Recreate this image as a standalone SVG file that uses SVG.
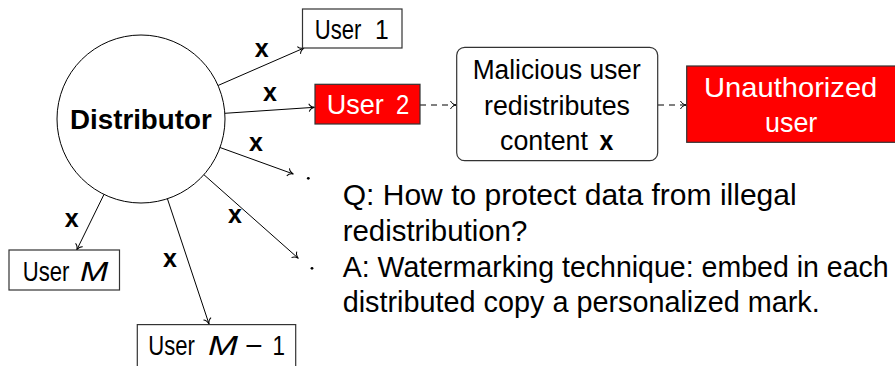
<svg xmlns="http://www.w3.org/2000/svg" width="895" height="366" viewBox="0 0 895 366">
  <style>
    text { font-family: "Liberation Sans", Arial, sans-serif; fill: #000; }
    .box { fill: #fff; stroke: #333; stroke-width: 1.2; }
    .red { fill: #ff0000; stroke: #333; stroke-width: 1.2; }
    .edge { fill: none; stroke: #000; stroke-width: 1; }
    .dash { fill: none; stroke: #000; stroke-width: 1; stroke-dasharray: 6 5; }
    .lbl { font-size: 25px; font-weight: bold; text-anchor: middle; }
    .nt { font-size: 28px; }
    .body { font-size: 29px; }
    .w { fill: #fff; }
  </style>
  <defs>
    <marker id="to" markerUnits="userSpaceOnUse" markerWidth="12" markerHeight="12" viewBox="-7 -6 8 12" refX="0" refY="0" orient="auto" overflow="visible">
      <path d="M-5.5,-4 C-4.5,-1.5 -1.5,-0.3 0,0 C-1.5,0.3 -4.5,1.5 -5.5,4" fill="none" stroke="#000" stroke-width="1"/>
    </marker>
  </defs>

  <!-- distribution and redistribution edges -->
  <g id="connectors">
    <line class="edge" x1="218" y1="85.5" x2="304" y2="48" marker-end="url(#to)"/>
    <line class="edge" x1="224.8" y1="113.3" x2="314.5" y2="107.3" marker-end="url(#to)"/>
    <line class="edge" x1="220" y1="147.5" x2="293.3" y2="174" marker-end="url(#to)"/>
    <line class="edge" x1="203.9" y1="174.7" x2="298.3" y2="258.3" marker-end="url(#to)"/>
    <line class="edge" x1="104" y1="194.4" x2="76.7" y2="250" marker-end="url(#to)"/>
    <line class="edge" x1="167.4" y1="198.7" x2="209" y2="324" marker-end="url(#to)"/>
    <line class="dash" x1="420" y1="105" x2="456" y2="105" marker-end="url(#to)"/>
    <line class="dash" x1="658" y1="105" x2="686" y2="105" marker-end="url(#to)"/>
    <text class="lbl" x="261.7" y="56.7">x</text>
    <text class="lbl" x="270" y="100.7">x</text>
    <text class="lbl" x="256" y="150.7">x</text>
    <text class="lbl" x="235" y="222.7">x</text>
    <text class="lbl" x="71.7" y="226.7">x</text>
    <text class="lbl" x="170" y="266.7">x</text>
    <circle cx="308.3" cy="178.3" r="1.4" fill="#000"/>
    <circle cx="312" cy="268.3" r="1.4" fill="#000"/>
  </g>

  <g id="distributor">
    <circle cx="141" cy="119" r="84" fill="#fff" stroke="#000" stroke-width="1"/>
    <text x="70" y="129.3" font-size="28" font-weight="bold" textLength="141.7" lengthAdjust="spacingAndGlyphs">Distributor</text>
  </g>

  <g id="user1">
    <rect class="box" x="302.5" y="9" width="99.5" height="39"/>
    <text class="nt" y="39.3"><tspan x="314.7" textLength="46.6" lengthAdjust="spacingAndGlyphs">User</tspan><tspan x="375" textLength="13.7" lengthAdjust="spacingAndGlyphs">1</tspan></text>
  </g>

  <g id="user2">
    <rect class="red" x="315" y="84.3" width="105" height="39.7"/>
    <text class="w" font-size="28.5" y="114.3"><tspan class="w" x="326.7" textLength="57" lengthAdjust="spacingAndGlyphs">User</tspan><tspan class="w" x="396" textLength="13.3" lengthAdjust="spacingAndGlyphs">2</tspan></text>
  </g>

  <g id="userM">
    <rect class="box" x="9" y="250" width="110.5" height="40"/>
    <text class="nt" y="281"><tspan x="22.7" textLength="46.6" lengthAdjust="spacingAndGlyphs">User</tspan><tspan x="80" font-style="italic" textLength="28.3" lengthAdjust="spacingAndGlyphs">M</tspan></text>
  </g>

  <g id="userM1">
    <rect class="box" x="137.3" y="324.6" width="158.4" height="60"/>
    <text class="nt" y="354.7"><tspan x="148.3" textLength="46.6" lengthAdjust="spacingAndGlyphs">User</tspan><tspan x="208" font-style="italic" textLength="30" lengthAdjust="spacingAndGlyphs">M</tspan><tspan x="245" textLength="17.7" lengthAdjust="spacingAndGlyphs">−</tspan><tspan x="272.5" textLength="12.5" lengthAdjust="spacingAndGlyphs">1</tspan></text>
  </g>

  <g id="malicious">
    <rect class="box" x="456.7" y="47.3" width="201" height="113.4" rx="8" ry="8"/>
    <text font-size="27" x="472.7" y="78.5" textLength="168" lengthAdjust="spacingAndGlyphs">Malicious user</text>
    <text font-size="27" x="484" y="114.5" textLength="146" lengthAdjust="spacingAndGlyphs">redistributes</text>
    <text font-size="27" y="150"><tspan x="500" textLength="88" lengthAdjust="spacingAndGlyphs">content</tspan><tspan x="599.5" font-weight="bold" textLength="13.8" lengthAdjust="spacingAndGlyphs">x</tspan></text>
  </g>

  <g id="unauthorized">
    <rect class="red" x="686.7" y="66" width="230" height="76.3" stroke="#555"/>
    <text class="w" font-size="28" x="704" y="96.7" textLength="173.3" lengthAdjust="spacingAndGlyphs">Unauthorized</text>
    <text class="w" font-size="28" x="765" y="131.7" textLength="52.3" lengthAdjust="spacingAndGlyphs">user</text>
  </g>

  <g id="notes">
    <text class="body" x="342.7" y="205" textLength="454" lengthAdjust="spacingAndGlyphs">Q: How to protect data from illegal</text>
    <text class="body" x="342.7" y="241" textLength="184.6" lengthAdjust="spacingAndGlyphs">redistribution?</text>
    <text class="body" x="342.7" y="277" font-size="28.4" textLength="546" lengthAdjust="spacingAndGlyphs">A: Watermarking technique: embed in each</text>
    <text class="body" x="342.7" y="312" textLength="477" lengthAdjust="spacingAndGlyphs">distributed copy a personalized mark.</text>
  </g>
</svg>
